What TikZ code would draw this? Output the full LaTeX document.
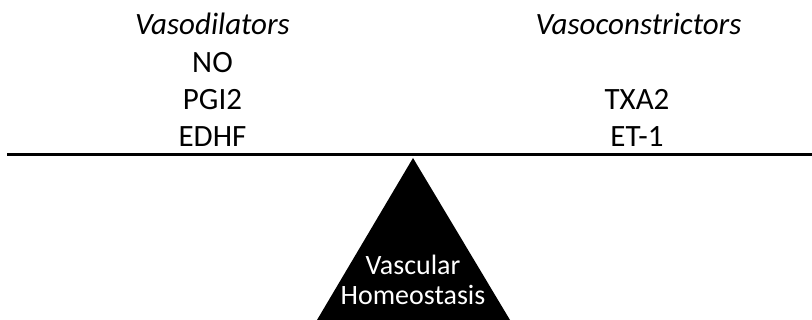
\documentclass[tikz,border=0pt]{standalone}
\usepackage{fontspec}
\setmainfont{Carlito}
\begin{document}
\begin{tikzpicture}[x=1pt,y=-1pt,
  lbl/.style={font=\fontsize{31}{34}\selectfont, inner sep=0pt, anchor=base},
  hd/.style={lbl, font=\fontsize{31}{34}\selectfont\itshape},
  tri/.style={lbl, text=white, font=\fontsize{28}{32}\selectfont}]
\useasboundingbox (0,0) rectangle (812,320);
\clip (0,0) rectangle (812,320);
% headings and items
\node[hd] (vd) at (212.5,35) {Vasodilators};
\node[hd] (vc) at (638.5,35) {Vasoconstrictors};
\node[lbl] (no) at (212.5,73) {NO};
\node[lbl] (pgi) at (212.5,110) {PGI2};
\node[lbl] (edhf) at (212.5,147) {EDHF};
\node[lbl] (txa) at (637,110) {TXA2};
\node[lbl] (et) at (637,147) {ET-1};
% beam
\coordinate (bl) at (7,155);
\coordinate (br) at (812,155);
\draw[line width=3pt] (bl) -- (br);
% fulcrum
\coordinate (apex) at (413,158);
\coordinate (baseL) at (317,320);
\coordinate (baseR) at (510,320);
\fill[black] (apex) -- (baseR) -- (baseL) -- cycle;
\node[tri] (v1) at (413,275) {Vascular};
\node[tri] (v2) at (413,305) {Homeostasis};
\end{tikzpicture}
\end{document}
